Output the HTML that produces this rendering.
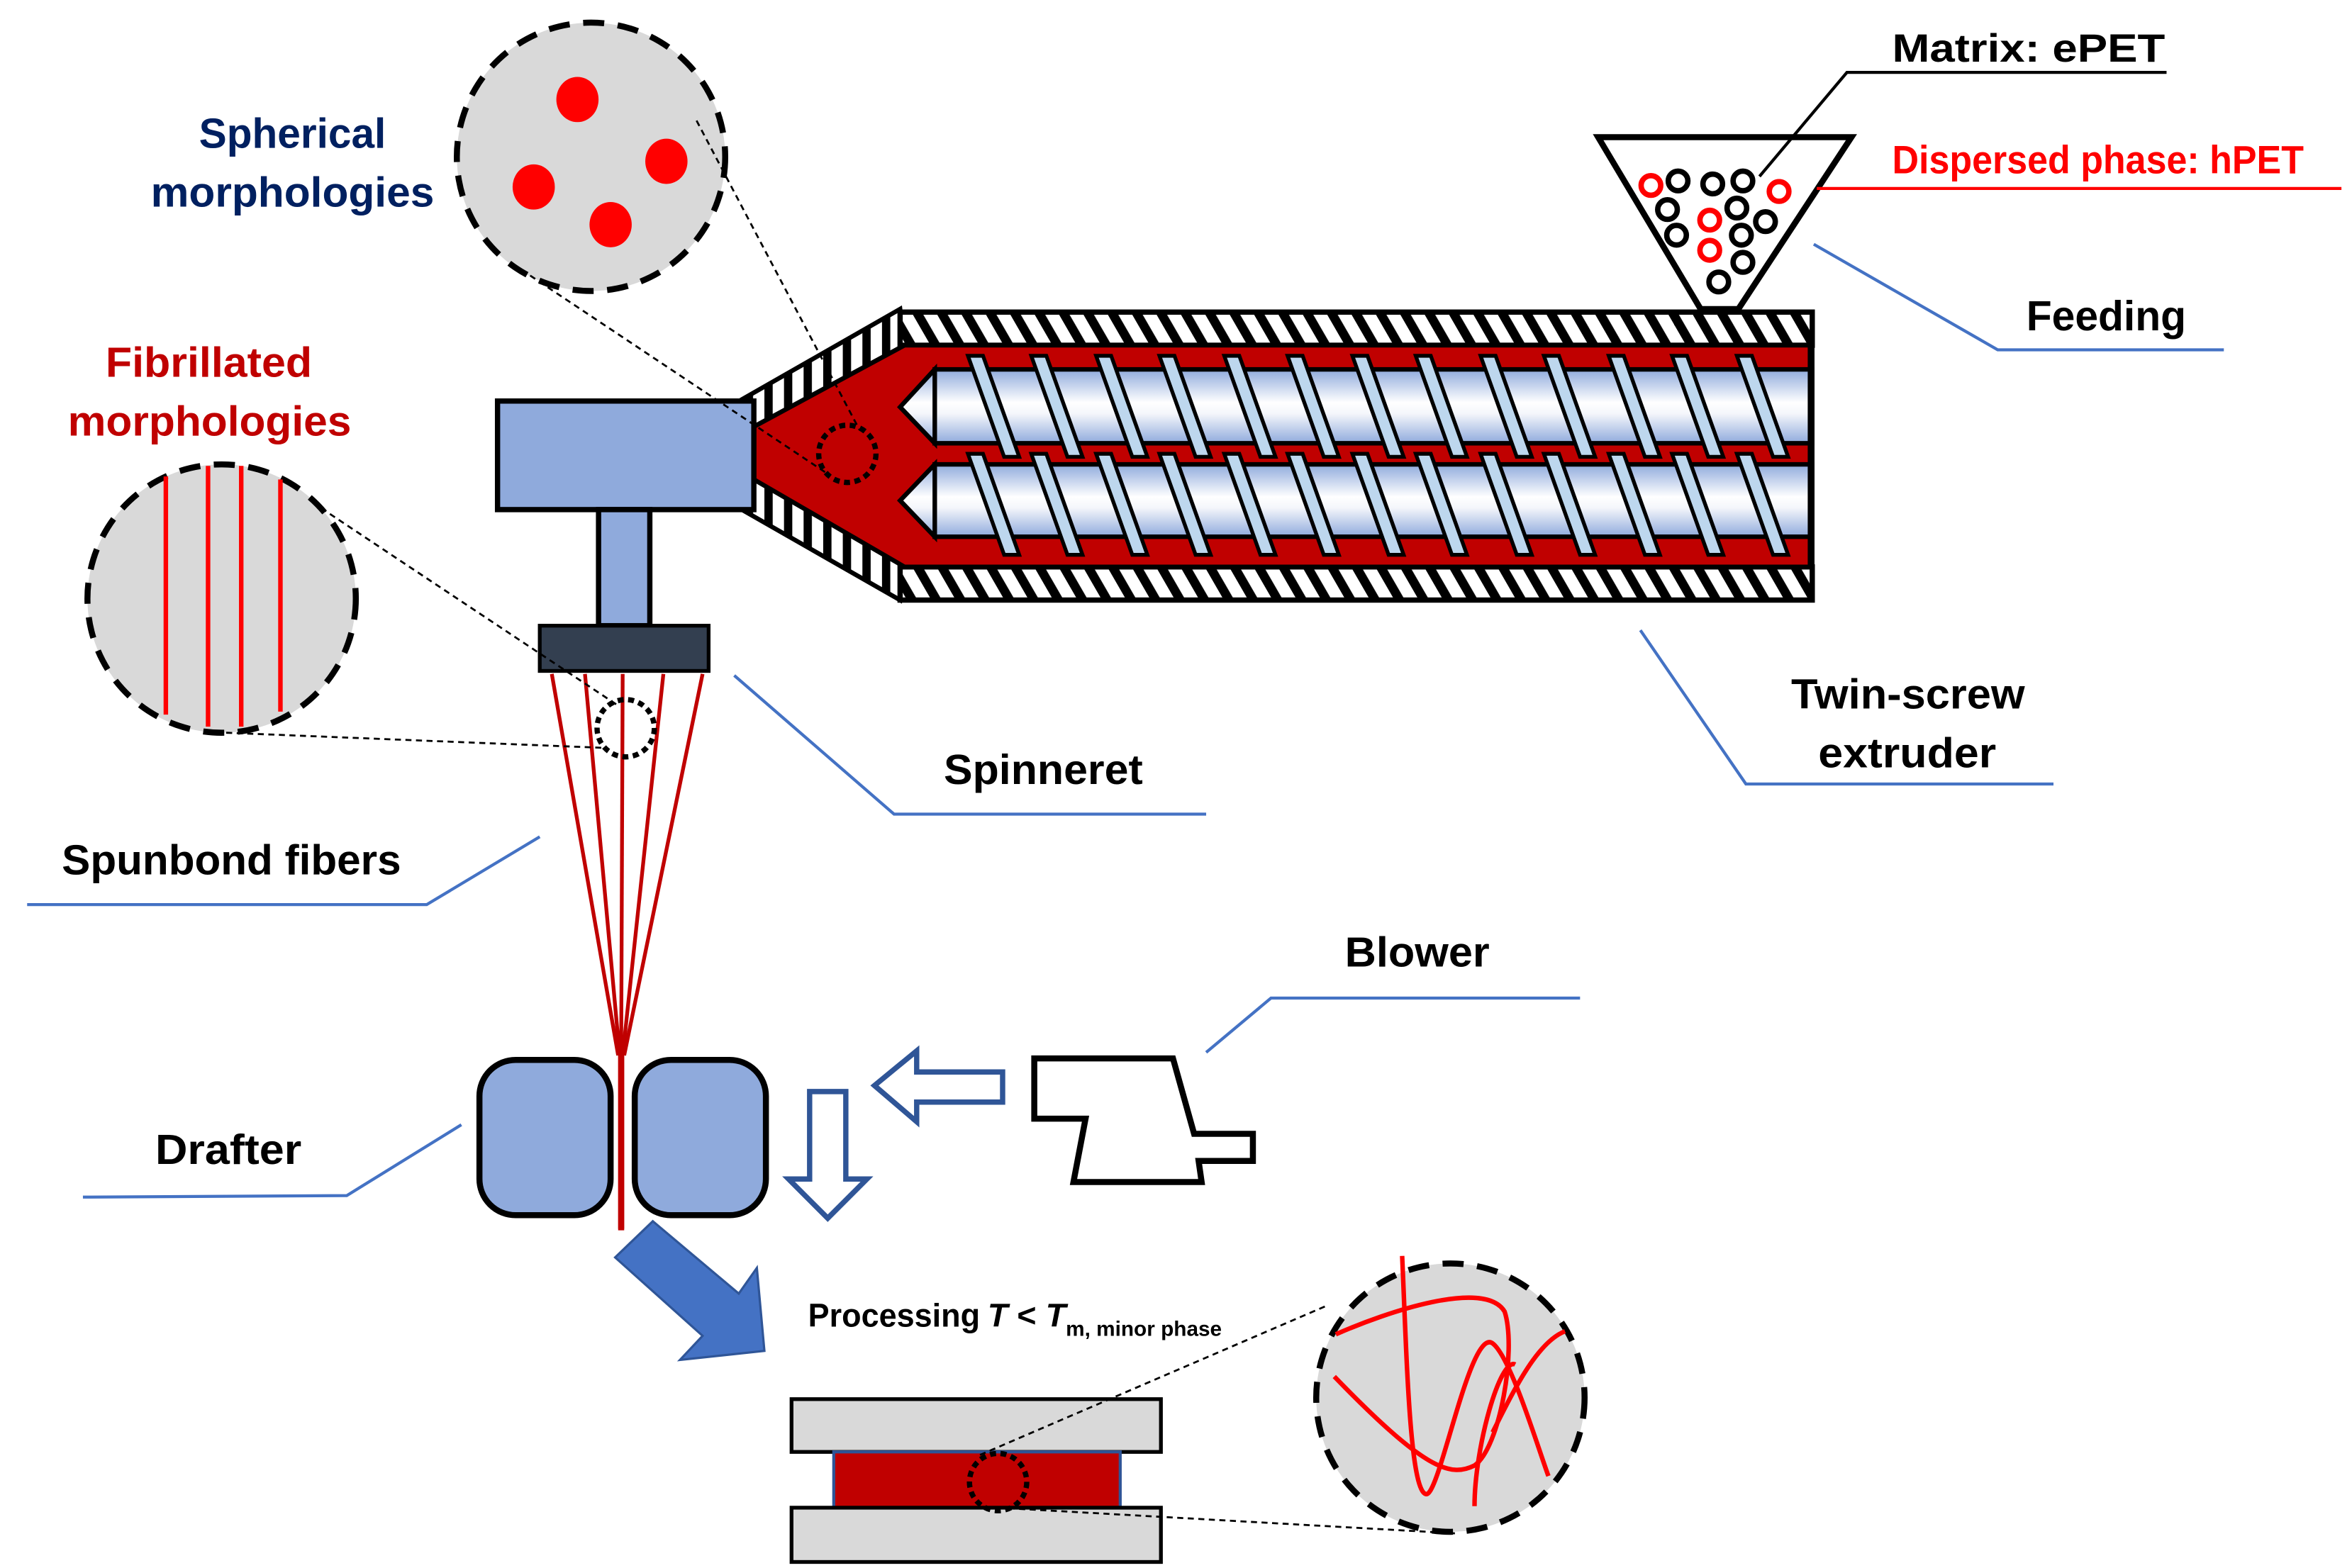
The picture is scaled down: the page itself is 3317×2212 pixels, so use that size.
<!DOCTYPE html>
<html><head><meta charset="utf-8"><style>html,body{margin:0;padding:0;background:#fff}svg{display:block}</style></head><body>
<svg width="3317" height="2212" viewBox="0 0 1560 1040" preserveAspectRatio="none" xmlns="http://www.w3.org/2000/svg" font-family="Liberation Sans, sans-serif" font-weight="bold">
<defs>
<pattern id="hatch" width="14" height="14" patternUnits="userSpaceOnUse" patternTransform="rotate(-30)">
<rect width="14" height="14" fill="#fff"/><rect width="6" height="14" fill="#000"/></pattern>
<pattern id="hatchv" width="13" height="13" patternUnits="userSpaceOnUse">
<rect width="13" height="13" fill="#fff"/><rect width="5.5" height="13" fill="#000"/></pattern>
<linearGradient id="scr" x1="0" y1="0" x2="0" y2="1">
<stop offset="0" stop-color="#8faadc"/><stop offset="0.45" stop-color="#fff"/><stop offset="0.6" stop-color="#f4f6fb"/><stop offset="1" stop-color="#8faadc"/></linearGradient>
</defs>

<polygon points="597,205 492,265 492,338 597,398 600,373 500,318 500,283 600,229" fill="url(#hatchv)" stroke="#000" stroke-width="3"/>
<rect x="597" y="207" width="605" height="22" fill="url(#hatch)" stroke="#000" stroke-width="3.5"/>
<rect x="597" y="376" width="605" height="22" fill="url(#hatch)" stroke="#000" stroke-width="3.5"/>
<polygon points="500,283 600,229 1202,229 1202,376 600,376 500,318" fill="#c00000" stroke="#000" stroke-width="3"/>
<g stroke="#000" stroke-width="3">
<rect x="620" y="245" width="582" height="49" fill="url(#scr)"/>
<polygon points="620,245 597,270 620,294" fill="url(#scr)"/>
<rect x="620" y="308" width="582" height="48" fill="url(#scr)"/>
<polygon points="620,308 597,332 620,356" fill="url(#scr)"/>
</g>
<g fill="#bdd7ee" stroke="#000" stroke-width="2.5" id="fl">
<polygon points="642,236 652,236 676,303 666,303"/><polygon points="684,236 694,236 718,303 708,303"/>
<polygon points="727,236 737,236 761,303 751,303"/><polygon points="769,236 779,236 803,303 793,303"/>
<polygon points="812,236 822,236 846,303 836,303"/><polygon points="854,236 864,236 888,303 878,303"/>
<polygon points="897,236 907,236 931,303 921,303"/><polygon points="939,236 949,236 973,303 963,303"/>
<polygon points="982,236 992,236 1016,303 1006,303"/><polygon points="1024,236 1034,236 1058,303 1048,303"/>
<polygon points="1067,236 1077,236 1101,303 1091,303"/><polygon points="1109,236 1119,236 1143,303 1133,303"/>
<polygon points="1152,236 1162,236 1186,303 1176,303"/>
</g>
<use href="#fl" transform="translate(0,65)"/>
<rect x="1199" y="229" width="4" height="147" fill="#000"/>

<polygon points="1060,91 1228,91 1153,205 1128,205" fill="#fff" stroke="#000" stroke-width="4"/>
<g fill="none" stroke-width="3.6">
<g stroke="#ff0000"><circle cx="1095" cy="123" r="6.5"/><circle cx="1180" cy="127" r="6.5"/><circle cx="1134" cy="146" r="6.5"/><circle cx="1134" cy="166" r="6.5"/></g>
<g stroke="#000"><circle cx="1113" cy="120" r="6.5"/><circle cx="1136" cy="122" r="6.5"/><circle cx="1156" cy="120" r="6.5"/><circle cx="1106" cy="139" r="6.5"/><circle cx="1152" cy="138" r="6.5"/><circle cx="1171" cy="147" r="6.5"/><circle cx="1112" cy="156" r="6.5"/><circle cx="1155" cy="156" r="6.5"/><circle cx="1156" cy="174" r="6.5"/><circle cx="1140" cy="187" r="6.5"/></g>
</g>
<polyline points="1167,117 1225,48 1437,48" fill="none" stroke="#000" stroke-width="2"/>
<line x1="1205" y1="125" x2="1553" y2="125" stroke="#ff0000" stroke-width="2"/>
<text x="1255" y="41" font-size="26" textLength="181" lengthAdjust="spacingAndGlyphs">Matrix: ePET</text>
<text x="1255" y="115" font-size="26" fill="#ff0000" textLength="273" lengthAdjust="spacingAndGlyphs">Dispersed phase: hPET</text>

<g fill="none" stroke="#4472c4" stroke-width="2">
<polyline points="1203,162 1325,232 1475,232"/>
<polyline points="1088,418 1158,520 1362,520"/>
<polyline points="487,448 593,540 800,540"/>
<polyline points="358,555 283,600 18,600"/>
<polyline points="800,698 843,662 1048,662"/>
<polyline points="306,746 230,793 55,794"/>
</g>
<g font-size="28">
<text x="1344" y="219" textLength="106" lengthAdjust="spacingAndGlyphs">Feeding</text>
<text x="1188" y="470" textLength="155" lengthAdjust="spacingAndGlyphs">Twin-screw</text>
<text x="1206" y="509" textLength="118" lengthAdjust="spacingAndGlyphs">extruder</text>
<text x="626" y="520" textLength="132" lengthAdjust="spacingAndGlyphs">Spinneret</text>
<text x="41" y="580" textLength="225" lengthAdjust="spacingAndGlyphs">Spunbond fibers</text>
<text x="892" y="641" textLength="96" lengthAdjust="spacingAndGlyphs">Blower</text>
<text x="103" y="772" textLength="97" lengthAdjust="spacingAndGlyphs">Drafter</text>
<text x="132" y="98" fill="#002060" textLength="124" lengthAdjust="spacingAndGlyphs">Spherical</text>
<text x="100" y="137" fill="#002060" textLength="188" lengthAdjust="spacingAndGlyphs">morphologies</text>
<text x="70" y="250" fill="#c00000" textLength="137" lengthAdjust="spacingAndGlyphs">Fibrillated</text>
<text x="45" y="289" fill="#c00000" textLength="188" lengthAdjust="spacingAndGlyphs">morphologies</text>
</g>

<circle cx="392" cy="104" r="89" fill="#d9d9d9" stroke="#000" stroke-width="4" stroke-dasharray="14,9"/>
<g fill="#ff0000"><ellipse cx="383" cy="66" rx="14" ry="15"/><ellipse cx="442" cy="107" rx="14" ry="15"/><ellipse cx="354" cy="124" rx="14" ry="15"/><ellipse cx="405" cy="149" rx="14" ry="15"/></g>
<circle cx="147" cy="397" r="89" fill="#d9d9d9" stroke="#000" stroke-width="4" stroke-dasharray="14,9"/>
<g stroke="#ff0000" stroke-width="3"><line x1="110" y1="316" x2="110" y2="474"/><line x1="138" y1="309" x2="138" y2="482"/><line x1="160" y1="309" x2="160" y2="482"/><line x1="186" y1="318" x2="186" y2="472"/></g>

<rect x="330" y="266" width="170" height="72" fill="#8faadc" stroke="#000" stroke-width="3.5"/>
<rect x="397" y="338" width="34" height="77" fill="#8faadc" stroke="#000" stroke-width="3.5"/>
<rect x="358" y="415" width="112" height="30" fill="#333f50" stroke="#000" stroke-width="2.5"/>
<g stroke="#c00000" stroke-width="2.5" fill="none">
<line x1="366" y1="447" x2="410" y2="700"/><line x1="388" y1="447" x2="411" y2="700"/><line x1="413" y1="447" x2="412" y2="700"/><line x1="440" y1="447" x2="413" y2="700"/><line x1="466" y1="447" x2="414" y2="700"/>
</g>
<line x1="412" y1="690" x2="412" y2="815" stroke="#c00000" stroke-width="4"/>
<circle cx="415" cy="483" r="19" fill="none" stroke="#000" stroke-width="3.5" stroke-dasharray="4,3"/>
<circle cx="562" cy="301" r="19" fill="none" stroke="#000" stroke-width="3.5" stroke-dasharray="4,3"/>
<g stroke="#000" stroke-width="1.3" stroke-dasharray="4,3" fill="none">
<line x1="462" y1="80" x2="570" y2="285"/><line x1="340" y1="175" x2="550" y2="315"/>
<line x1="213" y1="337" x2="410" y2="468"/><line x1="150" y1="486" x2="400" y2="496"/>
</g>

<rect x="318" y="703" width="87" height="103" rx="24" fill="#8faadc" stroke="#000" stroke-width="4"/>
<rect x="421" y="703" width="87" height="103" rx="24" fill="#8faadc" stroke="#000" stroke-width="4"/>
<line x1="412" y1="700" x2="412" y2="816" stroke="#c00000" stroke-width="4"/>
<polygon points="537,724 561,724 561,782 575,782 549,808 523,782 537,782" fill="#fff" stroke="#2f5597" stroke-width="3.5"/>
<polygon points="580,720 608,697 608,711 665,711 665,731 608,731 608,744" fill="#fff" stroke="#2f5597" stroke-width="3.5"/>
<polygon points="686,702 778,702 792,752 831,752 831,770 795,770 797,784 712,784 720,742 686,742" fill="#fff" stroke="#000" stroke-width="4"/>
<polygon points="433,810 490,858 502,841 507,896 451,902 466,886 408,834" fill="#4472c4" stroke="#2f5597" stroke-width="1.5"/>
<text x="536" y="880" font-size="22" textLength="114" lengthAdjust="spacingAndGlyphs">Processing</text>
<text x="655" y="880" font-size="22"><tspan font-style="italic">T</tspan> &lt; <tspan font-style="italic">T</tspan><tspan font-size="14" dy="6">m, minor phase</tspan></text>

<rect x="525" y="928" width="245" height="35" fill="#d9d9d9" stroke="#000" stroke-width="2.5"/>
<rect x="553" y="963" width="190" height="37" fill="#c00000" stroke="#2f5597" stroke-width="2"/>
<rect x="525" y="1000" width="245" height="36" fill="#d9d9d9" stroke="#000" stroke-width="2.5"/>
<ellipse cx="662" cy="983" rx="19" ry="19" fill="none" stroke="#000" stroke-width="3.5" stroke-dasharray="4,3"/>
<g stroke="#000" stroke-width="1.3" stroke-dasharray="4,3" fill="none">
<line x1="650" y1="965" x2="880" y2="866"/><line x1="662" y1="1000" x2="965" y2="1017"/>
</g>

<circle cx="962" cy="927" r="89" fill="#d9d9d9" stroke="#000" stroke-width="4" stroke-dasharray="14,9"/>
<g fill="none" stroke="#ff0000" stroke-width="3">
<path d="M886,885 C920,870 985,848 998,870 C1006,895 995,960 978,972 C962,980 945,975 885,913"/>
<path d="M930,833 C933,900 935,990 946,991 C955,992 975,880 990,891 C1002,900 1020,960 1027,979"/>
<path d="M978,999 C978,960 995,900 1005,905 M990,950 C1005,920 1020,890 1038,883"/>
</g>
</svg>
</body></html>
